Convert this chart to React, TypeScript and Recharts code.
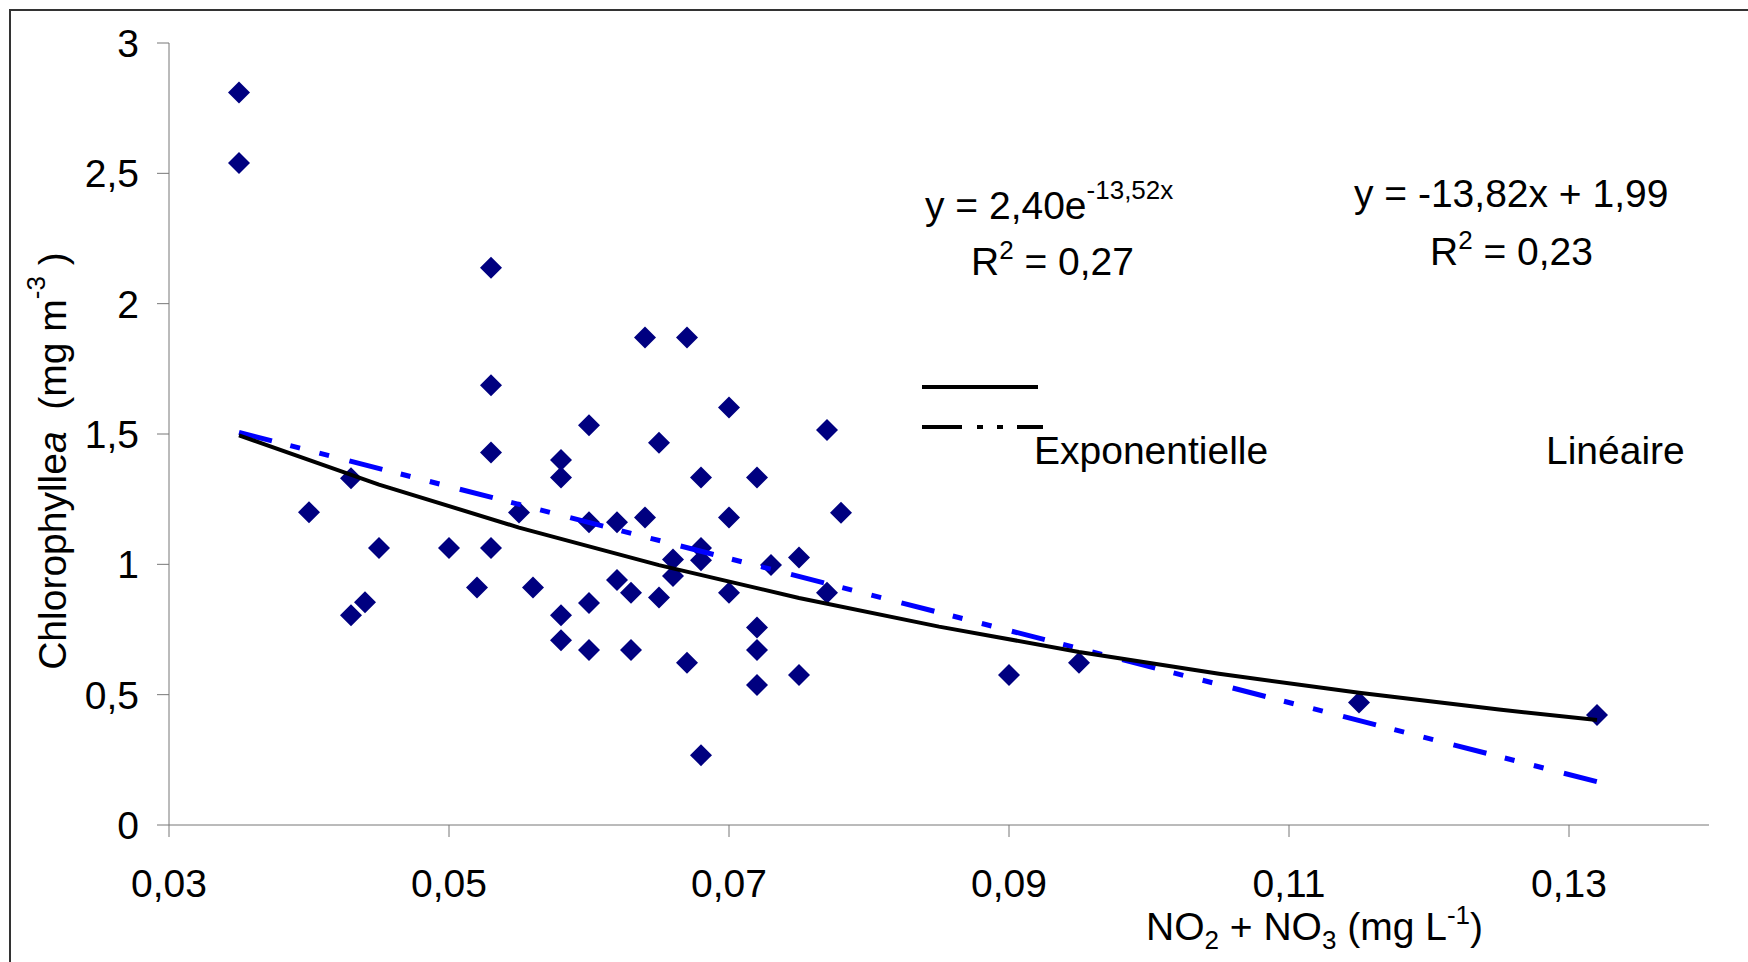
import { ScatterChart, Scatter, XAxis, YAxis } from "recharts";

const FONT = "'Liberation Sans', Arial, sans-serif";
const NAVY = "#000080";
const BLUE = "#0000ff";
const AXIS_GREY = "#777777";

// NO2 + NO3 (mg/L) and chlorophyll a (mg/m3)
const nitrate = [
  0.035, 0.035, 0.04, 0.043, 0.043, 0.044, 0.045, 0.05, 0.052, 0.053, 0.053, 0.053, 0.053,
  0.055, 0.056, 0.058, 0.058, 0.058, 0.058, 0.06, 0.06, 0.06, 0.06, 0.062, 0.062, 0.063,
  0.063, 0.064, 0.064, 0.065, 0.065, 0.066, 0.066, 0.067, 0.067, 0.068, 0.068, 0.068, 0.068,
  0.07, 0.07, 0.07, 0.072, 0.072, 0.072, 0.072, 0.073, 0.075, 0.075, 0.077, 0.077, 0.078,
  0.09, 0.095, 0.115, 0.132,
];
const chlorophyll = [
  2.81, 2.54, 1.2, 1.33, 0.805, 0.855, 1.063, 1.063, 0.911, 2.138, 1.687, 1.429, 1.063,
  1.199, 0.911, 1.4, 1.333, 0.805, 0.709, 1.534, 1.161, 0.852, 0.671, 1.161, 0.94, 0.891,
  0.671, 1.87, 1.18, 1.466, 0.873, 1.019, 0.955, 1.87, 0.622, 1.333, 1.063, 1.016, 0.268,
  1.602, 1.18, 0.891, 1.333, 0.758, 0.671, 0.537, 0.997, 1.026, 0.575, 1.515, 0.891, 1.198,
  0.575, 0.622, 0.47, 0.422,
];

// exponential trend (solid black) sampled along the drawn curve
const expX = [0.035, 0.045, 0.055, 0.065, 0.075, 0.085, 0.095, 0.105, 0.115, 0.125, 0.132];
const expY = [1.495, 1.306, 1.141, 0.997, 0.871, 0.761, 0.664, 0.58, 0.507, 0.443, 0.403];

// linear trend (blue dash-dot-dot) end points
const linX = [0.035, 0.132];
const linY = [1.506, 0.166];

const xTicks = [0.03, 0.05, 0.07, 0.09, 0.11, 0.13];
const yTicks = [0, 0.5, 1, 1.5, 2, 2.5, 3];

const points = nitrate.map((x, i) => ({ x, y: chlorophyll[i] }));
const expPts = expX.map((x, i) => ({ x, y: expY[i] }));
const linPts = linX.map((x, i) => ({ x, y: linY[i] }));

const fmt = (v: number) => String(v).replace(".", ",");

const Diamond = (props: any) => {
  const { cx, cy } = props;
  if (cx == null || cy == null) return <g />;
  const r = 11;
  return (
    <polygon
      points={`${cx},${cy - r} ${cx + r},${cy} ${cx},${cy + r} ${cx - r},${cy}`}
      fill={NAVY}
    />
  );
};

const NoDot = () => <g />;

export default function App() {
  const txt = { fontFamily: FONT, fontSize: 39, fill: "#000" };
  return (
    <div style={{ position: "relative", width: 1748, height: 962, background: "#fff" }}>
      <style>{`body{margin:0}`}</style>
      <ScatterChart
        width={1748}
        height={962}
        margin={{ top: 43, right: 39, bottom: 0, left: 0 }}
      >
        <XAxis
          type="number"
          dataKey="x"
          domain={[0.03, 0.14]}
          ticks={xTicks}
          interval={0}
          tickFormatter={fmt}
          height={137}
          tickSize={12}
          tickMargin={32}
          stroke={AXIS_GREY}
          tick={{ fill: "#000", fontSize: 39, fontFamily: FONT }}
          allowDataOverflow
        />
        <YAxis
          type="number"
          dataKey="y"
          domain={[0, 3]}
          ticks={yTicks}
          interval={0}
          tickFormatter={fmt}
          width={169}
          tickSize={12}
          tickMargin={18}
          stroke={AXIS_GREY}
          tick={{ fill: "#000", fontSize: 39, fontFamily: FONT }}
          allowDataOverflow
        />
        <Scatter data={points} shape={Diamond} isAnimationActive={false} />
        <Scatter
          data={linPts}
          shape={NoDot}
          line={{ stroke: BLUE, strokeWidth: 5, strokeDasharray: "34 19 10 20 10 21" }}
          lineType="joint"
          isAnimationActive={false}
        />
        <Scatter
          data={expPts}
          shape={NoDot}
          line={{ stroke: "#000", strokeWidth: 4 }}
          lineType="joint"
          isAnimationActive={false}
        />
      </ScatterChart>

      <svg
        width={1748}
        height={962}
        style={{ position: "absolute", left: 0, top: 0, pointerEvents: "none", whiteSpace: "pre" }}
      >
        <path d="M10 962 L10 10 L1748 10" fill="none" stroke="#333" strokeWidth={2} />

        {/* axis titles */}
        <text
          {...txt}
          xmlSpace="preserve"
          transform="translate(52,461) rotate(-90)"
          textAnchor="middle"
          dominantBaseline="central"
        >
          Chlorophylle<tspan fontStyle="italic">a</tspan>
          {"  (mg m"}
          <tspan fontSize={26} dy={-16}>-3</tspan>
          <tspan dy={16}>{" )"}</tspan>
        </text>
        <text {...txt} x={1146} y={940}>
          NO<tspan fontSize={26} dy={9}>2</tspan>
          <tspan dy={-9}>{" + NO"}</tspan>
          <tspan fontSize={26} dy={9}>3</tspan>
          <tspan dy={-9}>{" (mg L"}</tspan>
          <tspan fontSize={26} dy={-16}>-1</tspan>
          <tspan dy={16}>)</tspan>
        </text>

        {/* trend equations */}
        <text {...txt} x={925} y={219}>
          y = 2,40e<tspan fontSize={26} dy={-20}>-13,52x</tspan>
        </text>
        <text {...txt} x={971} y={275}>
          R<tspan fontSize={26} dy={-16}>2</tspan>
          <tspan dy={16}>{" = 0,27"}</tspan>
        </text>
        <text {...txt} x={1354} y={207}>
          y = -13,82x + 1,99
        </text>
        <text {...txt} x={1430} y={265}>
          R<tspan fontSize={26} dy={-16}>2</tspan>
          <tspan dy={16}>{" = 0,23"}</tspan>
        </text>

        {/* legend */}
        <line x1={922} y1={387} x2={1038} y2={387} stroke="#000" strokeWidth={4} />
        <line
          x1={922}
          y1={427}
          x2={1043}
          y2={427}
          stroke="#000"
          strokeWidth={4}
          strokeDasharray="40 15 6 14 6 14 26"
        />
        <text {...txt} x={1034} y={464}>Exponentielle</text>
        <text {...txt} x={1546} y={464}>Linéaire</text>
      </svg>
    </div>
  );
}
